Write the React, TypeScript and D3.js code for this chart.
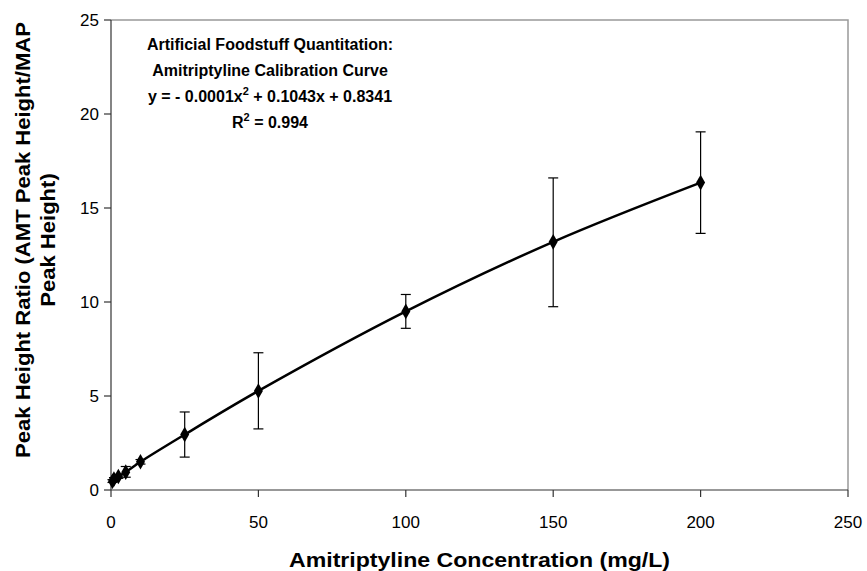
import React from "react";
import * as d3 from "d3";

const concentrations = [0.5, 1, 2.5, 5, 10, 25, 50, 100, 150, 200];
const ratios = [0.47, 0.58, 0.72, 0.95, 1.5, 2.95, 5.27, 9.5, 13.2, 16.35];
const errLow = [0.4, 0.5, 0.62, 0.68, 1.38, 1.75, 3.25, 8.6, 9.75, 13.65];
const errHigh = [0.55, 0.66, 0.82, 1.25, 1.62, 4.15, 7.3, 10.4, 16.6, 19.05];
const xTicks = [0, 50, 100, 150, 200, 250];
const yTicks = [0, 5, 10, 15, 20, 25];
const titleLines = [
  "Artificial Foodstuff Quantitation:",
  "Amitriptyline Calibration Curve",
];

export default function App() {
  const W = 867, H = 571;
  const left = 111, right = 848, top = 20, bottom = 490;
  const x = d3.scaleLinear().domain([0, 250]).range([left, right]);
  const y = d3.scaleLinear().domain([0, 25]).range([bottom, top]);
  const pts = concentrations.map((c, i) => [c, ratios[i]] as [number, number]);
  const line = d3
    .line<[number, number]>()
    .x((d) => x(d[0]))
    .y((d) => y(d[1]))
    .curve(d3.curveCatmullRom.alpha(0.5));
  const font = "'Liberation Sans', Arial, sans-serif";
  const diamond = d3.symbol().type(d3.symbolDiamond).size(70)();
  return (
    <svg width={W} height={H} style={{ position: "absolute", left: 0, top: 0, fontFamily: font }}>
      <rect x={0} y={0} width={W} height={H} fill="#fff" />
      <path d={`M${left},${top}H${right}V${bottom}`} fill="none" stroke="#999" strokeWidth={1.5} />
      <line x1={left} x2={right} y1={bottom} y2={bottom} stroke="#333" strokeWidth={1.2} />
      <line x1={left} x2={left} y1={top} y2={bottom} stroke="#333" strokeWidth={1.2} />
      {xTicks.map((t) => (
        <g key={"x" + t}>
          <line x1={x(t)} x2={x(t)} y1={bottom} y2={bottom + 7} stroke="#333" strokeWidth={1.2} />
          <text x={x(t)} y={bottom + 38} textAnchor="middle" fontSize={17} fill="#000">
            {t}
          </text>
        </g>
      ))}
      {yTicks.map((t) => (
        <g key={"y" + t}>
          <line x1={left - 7} x2={left} y1={y(t)} y2={y(t)} stroke="#333" strokeWidth={1.2} />
          <text x={left - 12} y={y(t) + 6} textAnchor="end" fontSize={17} fill="#000">
            {t}
          </text>
        </g>
      ))}
      {concentrations.map((c, i) => (
        <g key={"e" + i} stroke="#000" strokeWidth={1.2}>
          <line x1={x(c)} x2={x(c)} y1={y(errLow[i])} y2={y(errHigh[i])} />
          <line x1={x(c) - 5} x2={x(c) + 5} y1={y(errLow[i])} y2={y(errLow[i])} />
          <line x1={x(c) - 5} x2={x(c) + 5} y1={y(errHigh[i])} y2={y(errHigh[i])} />
        </g>
      ))}
      <path d={line(pts) || ""} fill="none" stroke="#000" strokeWidth={2.5} />
      {pts.map((p, i) => (
        <path key={"m" + i} d={diamond || ""} transform={`translate(${x(p[0])},${y(p[1])})`} fill="#000" />
      ))}
      <g fontWeight="bold" fontSize={16} textAnchor="middle" fill="#000">
        <text x={270} y={50}>{titleLines[0]}</text>
        <text x={270} y={76}>{titleLines[1]}</text>
        <text x={270} y={102}>
          y = - 0.0001x<tspan dy={-7} fontSize={11}>2</tspan>
          <tspan dy={7}> + 0.1043x + 0.8341</tspan>
        </text>
        <text x={270} y={128}>
          R<tspan dy={-7} fontSize={11}>2</tspan>
          <tspan dy={7}> = 0.994</tspan>
        </text>
      </g>
      <g transform={`translate(${(left + right) / 2},567) scale(1.1,1)`}>
        <text x={0} y={0} textAnchor="middle" fontWeight="bold" fontSize={21} fill="#000">
          Amitriptyline Concentration (mg/L)
        </text>
      </g>
      <g transform="translate(0,240) rotate(-90) scale(1.05,1)" fontWeight="bold" fontSize={21} textAnchor="middle" fill="#000">
        <text x={0} y={30}>Peak Height Ratio (AMT Peak Height/MAP</text>
        <text x={0} y={55}>Peak Height)</text>
      </g>
    </svg>
  );
}
